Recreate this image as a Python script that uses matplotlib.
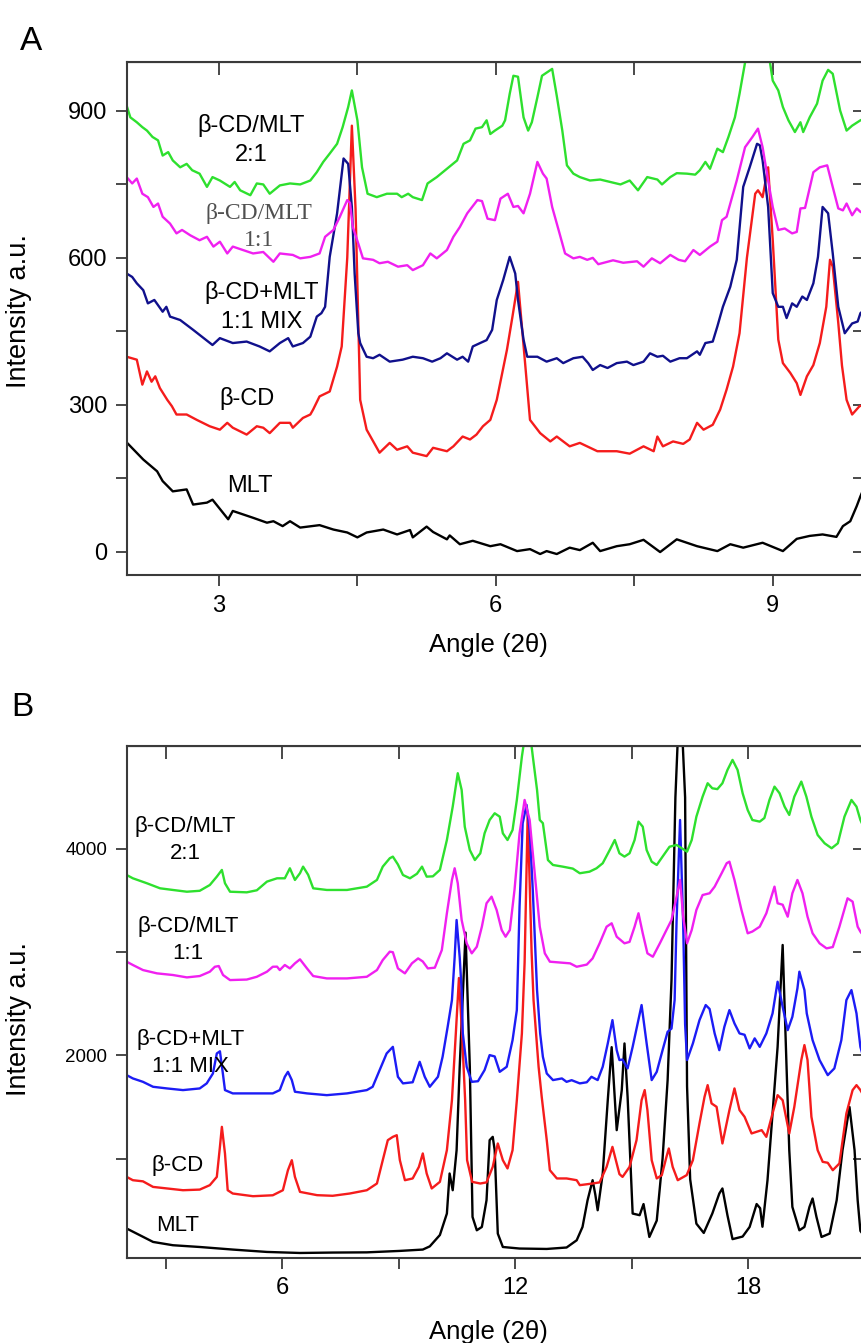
import matplotlib
matplotlib.use("Agg")
import matplotlib.pyplot as plt

plt.rcParams['font.family'] = ['Liberation Sans', 'DejaVu Sans']

# ---------- panel A data (2theta, intensity) ----------
a_mlt_x = [2.00, 2.18, 2.33, 2.39, 2.50, 2.65, 2.72, 2.87, 2.93, 3.10, 3.15, 3.37, 3.52, 3.59, 3.69,
           3.77, 3.88, 4.09, 4.24, 4.39, 4.50, 4.60, 4.78, 4.93, 5.07, 5.10, 5.25, 5.32, 5.47, 5.50,
           5.61, 5.75, 5.94, 6.05, 6.23, 6.37, 6.48, 6.55, 6.66, 6.80, 6.91, 7.05, 7.13, 7.31, 7.45,
           7.60, 7.78, 7.96, 8.18, 8.40, 8.54, 8.68, 8.89, 9.11, 9.26, 9.40, 9.54, 9.69, 9.76, 9.84,
           9.91, 9.95, 10.0]
a_mlt_y = [223, 188, 164, 144, 123, 127, 96, 100, 106, 66, 83, 69, 59, 62, 52,
           62, 49, 54, 45, 39, 29, 39, 45, 35, 44, 29, 51, 40, 25, 33,
           15, 22, 11, 15, 1, 5, -5, 1, -5, 8, 3, 18, 1, 11, 15,
           24, -1, 25, 11, 1, 15, 8, 18, 1, 26, 32, 35, 30, 52, 62,
           93, 113, 135]

a_cd_x = [2.00, 2.11, 2.17, 2.22, 2.27, 2.31, 2.36, 2.44, 2.49, 2.54, 2.65, 2.76, 2.90, 3.01, 3.09,
          3.15, 3.30, 3.41, 3.48, 3.55, 3.66, 3.77, 3.80, 3.91, 3.99, 4.02, 4.09, 4.20, 4.28, 4.33,
          4.39, 4.44, 4.48, 4.53, 4.60, 4.74, 4.85, 4.93, 5.04, 5.10, 5.25, 5.32, 5.47, 5.54, 5.64,
          5.72, 5.79, 5.86, 5.94, 6.01, 6.12, 6.18, 6.24, 6.32, 6.37, 6.48, 6.59, 6.66, 6.80, 6.91,
          7.10, 7.31, 7.45, 7.60, 7.71, 7.75, 7.81, 7.92, 8.03, 8.10, 8.18, 8.25, 8.35, 8.43, 8.50,
          8.57, 8.64, 8.72, 8.81, 8.84, 8.89, 8.95, 9.00, 9.06, 9.11, 9.19, 9.26, 9.30, 9.37, 9.44,
          9.51, 9.58, 9.62, 9.65, 9.71, 9.75, 9.80, 9.86, 9.94, 10.0]
a_cd_y = [398, 392, 341, 368, 347, 358, 334, 310, 297, 280, 280, 269, 256, 249, 263,
          253, 239, 256, 253, 242, 263, 263, 253, 273, 280, 290, 317, 327, 378, 419,
          600, 870, 700, 310, 249, 202, 222, 208, 215, 202, 195, 212, 205, 215, 235,
          229, 239, 256, 269, 310, 412, 480, 551, 378, 269, 242, 225, 235, 215, 222,
          205, 205, 200, 215, 205, 235, 215, 225, 220, 229, 263, 249, 259, 290, 331,
          378, 446, 600, 731, 738, 724, 785, 636, 433, 385, 365, 344, 320, 358, 381,
          426, 500, 596, 582, 467, 380, 310, 280, 297, 300]

a_mix_x = [2.00, 2.06, 2.11, 2.18, 2.23, 2.30, 2.39, 2.43, 2.47, 2.58, 2.72, 2.93, 3.01, 3.15, 3.30,
           3.44, 3.55, 3.66, 3.75, 3.80, 3.91, 3.99, 4.06, 4.11, 4.15, 4.20, 4.28, 4.35, 4.40, 4.44,
           4.47, 4.51, 4.53, 4.60, 4.67, 4.74, 4.85, 4.99, 5.10, 5.21, 5.31, 5.40, 5.47, 5.58, 5.64,
           5.70, 5.75, 5.83, 5.90, 5.96, 6.01, 6.08, 6.15, 6.21, 6.24, 6.30, 6.34, 6.45, 6.55, 6.66,
           6.73, 6.84, 6.94, 7.00, 7.05, 7.13, 7.21, 7.31, 7.42, 7.49, 7.60, 7.67, 7.75, 7.81, 7.89,
           7.99, 8.07, 8.18, 8.21, 8.27, 8.35, 8.40, 8.46, 8.54, 8.61, 8.68, 8.75, 8.83, 8.86, 8.89,
           8.95, 9.00, 9.06, 9.11, 9.15, 9.21, 9.26, 9.32, 9.37, 9.44, 9.49, 9.54, 9.60, 9.65, 9.71,
           9.78, 9.86, 9.92, 9.95, 10.0]
a_mix_y = [568, 561, 548, 534, 507, 514, 490, 500, 480, 473, 453, 422, 436, 426, 429,
           419, 409, 426, 436, 419, 426, 439, 480, 487, 500, 602, 691, 803, 792, 704,
           568, 446, 426, 398, 395, 402, 388, 392, 398, 395, 388, 395, 405, 392, 398,
           388, 419, 426, 432, 453, 514, 555, 602, 568, 514, 433, 398, 398, 388, 395,
           385, 395, 398, 385, 371, 381, 375, 385, 388, 381, 388, 405, 398, 400, 388,
           395, 395, 409, 402, 426, 429, 460, 500, 541, 596, 745, 785, 833, 830, 799,
           704, 528, 500, 500, 477, 507, 500, 521, 514, 548, 602, 704, 691, 609, 500,
           446, 466, 470, 487, 495]

a_11_x = [2.00, 2.06, 2.11, 2.17, 2.23, 2.29, 2.34, 2.39, 2.47, 2.54, 2.60, 2.69, 2.79, 2.87, 2.94,
          3.01, 3.09, 3.15, 3.26, 3.37, 3.48, 3.59, 3.66, 3.80, 3.88, 3.99, 4.09, 4.15, 4.24, 4.31,
          4.39, 4.42, 4.45, 4.51, 4.56, 4.67, 4.74, 4.83, 4.94, 5.04, 5.10, 5.21, 5.29, 5.36, 5.47,
          5.54, 5.61, 5.69, 5.80, 5.85, 5.91, 5.99, 6.05, 6.13, 6.19, 6.24, 6.30, 6.37, 6.45, 6.51,
          6.55, 6.61, 6.69, 6.75, 6.84, 6.91, 6.99, 7.05, 7.11, 7.21, 7.27, 7.38, 7.53, 7.60, 7.69,
          7.78, 7.89, 7.98, 8.05, 8.14, 8.21, 8.32, 8.40, 8.45, 8.50, 8.61, 8.70, 8.78, 8.84, 8.89,
          8.95, 9.00, 9.06, 9.13, 9.21, 9.26, 9.30, 9.35, 9.44, 9.51, 9.59, 9.64, 9.71, 9.76, 9.80,
          9.86, 9.91, 9.95, 10.0]
a_11_y = [765, 752, 762, 731, 724, 704, 711, 684, 670, 650, 657, 646, 636, 643, 623,
          633, 609, 623, 616, 609, 612, 592, 609, 606, 599, 602, 609, 643, 657, 684,
          718, 712, 663, 629, 599, 596, 589, 592, 582, 585, 575, 585, 609, 599, 616,
          643, 663, 691, 718, 716, 680, 677, 721, 731, 704, 706, 691, 731, 796, 772,
          762, 704, 650, 609, 599, 602, 596, 600, 587, 592, 595, 590, 593, 582, 599,
          589, 606, 596, 593, 616, 606, 623, 633, 677, 684, 758, 826, 847, 864, 826,
          758, 704, 657, 660, 650, 653, 701, 702, 775, 785, 789, 752, 701, 697, 711,
          687, 701, 694, 690]

a_21_x = [2.00, 2.04, 2.11, 2.17, 2.22, 2.28, 2.34, 2.39, 2.45, 2.50, 2.58, 2.65, 2.71, 2.79, 2.87,
          2.93, 3.01, 3.12, 3.17, 3.23, 3.34, 3.41, 3.48, 3.55, 3.66, 3.77, 3.88, 3.99, 4.06, 4.13,
          4.20, 4.28, 4.34, 4.40, 4.44, 4.50, 4.55, 4.61, 4.71, 4.82, 4.93, 4.98, 5.05, 5.10, 5.20,
          5.26, 5.36, 5.47, 5.58, 5.65, 5.72, 5.78, 5.85, 5.90, 5.94, 5.99, 6.07, 6.10, 6.15, 6.19,
          6.24, 6.30, 6.35, 6.39, 6.45, 6.50, 6.61, 6.66, 6.72, 6.77, 6.84, 6.91, 7.02, 7.13, 7.24,
          7.35, 7.45, 7.54, 7.64, 7.75, 7.80, 7.89, 7.96, 8.07, 8.16, 8.21, 8.27, 8.32, 8.40, 8.46,
          8.52, 8.59, 8.64, 8.70, 8.78, 8.86, 8.97, 9.00, 9.06, 9.11, 9.17, 9.24, 9.30, 9.33, 9.40,
          9.48, 9.54, 9.60, 9.65, 9.73, 9.80, 9.86, 9.95, 10.0]
a_21_y = [911, 887, 877, 867, 860, 847, 840, 809, 816, 799, 785, 792, 779, 772, 745,
          765, 758, 745, 755, 738, 728, 752, 750, 731, 748, 752, 750, 758, 775, 796,
          813, 833, 867, 908, 942, 881, 785, 731, 724, 731, 731, 724, 731, 724, 718,
          752, 765, 782, 799, 833, 840, 864, 867, 881, 853, 860, 870, 881, 935, 972,
          970, 887, 860, 877, 928, 972, 986, 931, 860, 789, 772, 765, 758, 760, 755,
          750, 758, 738, 765, 760, 750, 765, 773, 772, 770, 779, 796, 782, 823, 816,
          847, 887, 935, 999, 1080, 1080, 999, 962, 942, 908, 881, 857, 877, 857, 887,
          915, 962, 984, 976, 901, 860, 870, 881, 885]

# ---------- panel B data ----------
b_mlt_x = [2.00, 2.34, 2.68, 3.19, 3.88, 4.73, 5.61, 6.46, 7.30, 8.18, 9.03, 9.62, 9.80, 10.06, 10.24,
           10.31, 10.39, 10.49, 10.57, 10.72, 10.83, 10.90, 11.01, 11.14, 11.26, 11.34, 11.42, 11.47,
           11.55, 11.68, 12.11, 12.81, 13.32, 13.58, 13.73, 13.86, 13.99, 14.06, 14.12, 14.25, 14.38,
           14.48, 14.61, 14.74, 14.81, 14.89, 15.02, 15.20, 15.30, 15.45, 15.64, 15.79, 15.92, 16.02,
           16.12, 16.24, 16.37, 16.42, 16.50, 16.66, 16.85, 17.07, 17.25, 17.33, 17.46, 17.59, 17.85,
           18.03, 18.21, 18.30, 18.36, 18.49, 18.62, 18.75, 18.88, 18.98, 19.05, 19.13, 19.31, 19.44,
           19.57, 19.65, 19.75, 19.88, 20.09, 20.27, 20.42, 20.60, 20.73, 20.81, 20.88, 20.98]
b_mlt_y = [323, 258, 193, 161, 144, 119, 96, 86, 90, 92, 106, 119, 150, 260, 468,
           856, 694, 1082, 1890, 3190, 1890, 435, 306, 338, 597, 1179, 1211, 1082,
           274, 144, 129, 125, 139, 209, 338, 597, 791, 650, 500, 856, 1567,
           2080, 1276, 1664, 2116, 1599, 468, 452, 560, 241, 400, 1000, 1761, 2730,
           4500, 5600, 4500, 1700, 800, 370, 280, 468, 662, 711, 450, 220, 245,
           338, 560, 520, 340, 791, 1438, 2083, 3070, 1890, 1082, 532, 306, 338,
           532, 614, 435, 241, 274, 597, 1082, 1500, 1082, 597, 300, 250]

b_cd_x = [2.00, 2.16, 2.42, 2.68, 3.04, 3.45, 3.88, 4.14, 4.32, 4.40, 4.45, 4.53, 4.60, 4.73, 5.25,
          5.76, 6.02, 6.15, 6.25, 6.33, 6.46, 6.90, 7.30, 7.74, 8.18, 8.44, 8.59, 8.72, 8.85, 8.95,
          9.03, 9.16, 9.36, 9.52, 9.62, 9.72, 9.85, 10.06, 10.24, 10.37, 10.47, 10.55, 10.63, 10.71,
          10.76, 10.89, 11.10, 11.26, 11.42, 11.55, 11.68, 11.80, 11.93, 12.04, 12.17, 12.24, 12.32,
          12.42, 12.47, 12.60, 12.68, 12.81, 12.89, 13.07, 13.32, 13.58, 13.66, 13.99, 14.17, 14.35,
          14.50, 14.68, 14.76, 14.94, 15.12, 15.25, 15.33, 15.40, 15.51, 15.64, 15.77, 15.89, 15.95,
          16.05, 16.18, 16.41, 16.57, 16.74, 16.87, 16.95, 17.05, 17.18, 17.33, 17.51, 17.64, 17.77,
          17.90, 18.08, 18.21, 18.34, 18.46, 18.62, 18.75, 18.88, 19.05, 19.18, 19.36, 19.44, 19.52,
          19.62, 19.78, 19.91, 20.04, 20.17, 20.34, 20.52, 20.68, 20.78, 20.88, 20.98]
b_cd_y = [823, 791, 780, 726, 711, 694, 700, 743, 823, 1114, 1308, 1050, 694, 662, 636,
          645, 694, 888, 985, 823, 678, 646, 640, 662, 694, 759, 985, 1179, 1211, 1227,
          985, 791, 808, 920, 1050, 856, 711, 775, 1082, 1566, 2213, 2750, 2213, 1566,
          985, 775, 759, 770, 920, 1147, 985, 905, 1082, 1566, 2213, 2900, 4350,
          3000, 2536, 1890, 1599, 1179, 888, 808, 808, 791, 743, 759, 770, 920,
          1114, 850, 823, 920, 1179, 1566, 1664, 1470, 985, 808, 840, 1017, 1098,
          920, 791, 840, 985, 1341, 1599, 1712, 1535, 1502, 1147, 1470, 1680, 1470,
          1405, 1244, 1260, 1276, 1211, 1438, 1615, 1566, 1244, 1502, 1955, 2100, 1955,
          1405, 1082, 969, 960, 888, 953, 1438, 1664, 1712, 1664, 1600]

b_mix_x = [2.00, 2.16, 2.42, 2.68, 3.04, 3.45, 3.88, 4.06, 4.22, 4.32, 4.40, 4.45, 4.53, 4.73, 5.25,
           5.76, 5.94, 6.07, 6.15, 6.25, 6.33, 6.64, 7.15, 7.67, 8.18, 8.33, 8.51, 8.69, 8.85, 8.98,
           9.11, 9.36, 9.54, 9.67, 9.80, 10.01, 10.13, 10.26, 10.37, 10.44, 10.49, 10.57, 10.62, 10.65,
           10.75, 10.88, 11.04, 11.21, 11.34, 11.47, 11.60, 11.78, 11.93, 12.04, 12.11, 12.19, 12.29,
           12.37, 12.45, 12.56, 12.64, 12.71, 12.81, 12.97, 13.20, 13.32, 13.45, 13.66, 13.84, 13.96,
           14.12, 14.25, 14.38, 14.50, 14.61, 14.68, 14.76, 14.89, 15.02, 15.25, 15.38, 15.51, 15.64,
           15.79, 15.92, 16.02, 16.10, 16.15, 16.24, 16.32, 16.37, 16.42, 16.57, 16.74, 16.90, 17.00,
           17.13, 17.25, 17.38, 17.51, 17.64, 17.77, 17.90, 18.03, 18.16, 18.29, 18.46, 18.62, 18.75,
           18.88, 19.01, 19.13, 19.26, 19.31, 19.44, 19.50, 19.65, 19.83, 20.04, 20.21, 20.39, 20.52,
           20.65, 20.78, 20.88, 20.98]
b_mix_y = [1809, 1777, 1744, 1696, 1680, 1664, 1680, 1729, 1825, 2019, 2040, 1900, 1664, 1632, 1632,
           1632, 1664, 1793, 1841, 1761, 1648, 1632, 1615, 1632, 1664, 1696, 1858, 2019, 2083, 1793,
           1729, 1740, 1938, 1793, 1696, 1793, 1987, 2277, 2536, 2950, 3312, 2950, 2633, 2213,
           1890, 1744, 1750, 1858, 2003, 1990, 1841, 1890, 2148, 2439, 3441, 4249, 4427,
           4184, 3603, 2633, 2213, 1987, 1825, 1761, 1777, 1744, 1760, 1729, 1740, 1793,
           1761, 1890, 2116, 2342, 2051, 1955, 1960, 1874, 2083, 2488, 2116, 1761, 1841,
           2051, 2229, 2260, 2536, 3300, 4281, 3280, 2300, 1955, 2116, 2342, 2488, 2450,
           2213, 2051, 2277, 2439, 2310, 2213, 2200, 2068, 2165, 2083, 2213, 2407, 2714,
           2471, 2245, 2374, 2650, 2811, 2633, 2407, 2148, 1955, 1809, 1874, 2148, 2536,
           2633, 2407, 2083, 1950]

b_11_x = [2.00, 2.16, 2.42, 2.78, 3.19, 3.55, 3.88, 4.14, 4.27, 4.37, 4.48, 4.66, 5.09, 5.35, 5.61,
          5.76, 5.87, 5.94, 6.07, 6.20, 6.33, 6.46, 6.64, 6.80, 7.15, 7.67, 8.18, 8.44, 8.59, 8.77,
          8.85, 8.98, 9.16, 9.34, 9.50, 9.62, 9.75, 9.93, 10.11, 10.24, 10.37, 10.44, 10.52, 10.62,
          10.75, 10.88, 11.01, 11.14, 11.26, 11.39, 11.52, 11.65, 11.75, 11.86, 11.98, 12.11, 12.24,
          12.37, 12.50, 12.63, 12.76, 12.89, 13.15, 13.41, 13.58, 13.84, 13.99, 14.17, 14.35, 14.48,
          14.61, 14.81, 14.94, 15.07, 15.17, 15.28, 15.40, 15.54, 15.72, 15.89, 16.02, 16.15, 16.24,
          16.32, 16.42, 16.54, 16.66, 16.82, 17.00, 17.13, 17.31, 17.44, 17.51, 17.64, 17.82, 17.98,
          18.10, 18.29, 18.46, 18.59, 18.67, 18.75, 18.88, 19.01, 19.13, 19.26, 19.39, 19.52, 19.65,
          19.83, 20.01, 20.17, 20.34, 20.55, 20.68, 20.81, 20.88, 20.98]
b_11_y = [2908, 2876, 2827, 2795, 2779, 2756, 2769, 2811, 2859, 2866, 2779, 2730, 2735, 2762, 2811,
          2859, 2860, 2827, 2876, 2843, 2892, 2931, 2843, 2769, 2746, 2746, 2762, 2827, 2924, 3005,
          3000, 2843, 2795, 2892, 2940, 2910, 2843, 2850, 3021, 3377, 3700, 3813, 3668, 3312,
          3086, 2989, 3053, 3247, 3474, 3538, 3409, 3215, 3150, 3215, 3603, 4152, 4475,
          4281, 3765, 3247, 2989, 2908, 2900, 2892, 2859, 2880, 2940, 3086, 3247, 3280,
          3150, 3086, 3100, 3247, 3377, 3183, 2989, 2956, 3086, 3215, 3312, 3538, 3700,
          3344, 3086, 3215, 3409, 3554, 3571, 3635, 3765, 3862, 3877, 3700, 3409, 3183,
          3200, 3247, 3377, 3538, 3635, 3474, 3460, 3344, 3571, 3700, 3571, 3344, 3183,
          3086, 3037, 3050, 3247, 3522, 3490, 3247, 3199, 3150]

b_21_x = [2.00, 2.16, 2.52, 2.86, 3.19, 3.55, 3.88, 4.14, 4.32, 4.45, 4.53, 4.66, 5.09, 5.35, 5.61,
          5.87, 6.07, 6.20, 6.33, 6.46, 6.54, 6.67, 6.80, 7.15, 7.67, 8.18, 8.44, 8.59, 8.77, 8.85,
          8.98, 9.11, 9.29, 9.47, 9.60, 9.72, 9.88, 10.06, 10.24, 10.39, 10.52, 10.62, 10.70, 10.83,
          10.96, 11.10, 11.21, 11.34, 11.47, 11.60, 11.68, 11.80, 11.93, 12.04, 12.17, 12.27, 12.37,
          12.45, 12.56, 12.63, 12.71, 12.84, 12.97, 13.22, 13.48, 13.66, 13.91, 14.09, 14.25, 14.43,
          14.56, 14.68, 14.81, 14.94, 15.07, 15.17, 15.28, 15.38, 15.51, 15.64, 15.79, 15.97, 16.15,
          16.27, 16.42, 16.54, 16.66, 16.82, 16.95, 17.07, 17.20, 17.33, 17.46, 17.59, 17.72, 17.85,
          17.98, 18.10, 18.29, 18.41, 18.54, 18.67, 18.80, 18.93, 19.05, 19.18, 19.36, 19.49, 19.62,
          19.78, 19.96, 20.14, 20.30, 20.47, 20.65, 20.78, 20.88, 20.98]
b_21_y = [3748, 3716, 3668, 3619, 3603, 3586, 3595, 3651, 3732, 3797, 3668, 3586, 3580, 3600, 3684,
          3716, 3716, 3813, 3700, 3765, 3829, 3750, 3619, 3603, 3603, 3635, 3700, 3829, 3910, 3926,
          3850, 3748, 3716, 3760, 3829, 3732, 3735, 3797, 4087, 4410, 4734, 4572, 4216, 3990,
          3893, 3958, 4152, 4281, 4346, 4313, 4152, 4087, 4184, 4475, 4895, 5150, 5150,
          4900, 4572, 4281, 4250, 3893, 3845, 3829, 3810, 3765, 3780, 3813, 3862, 3990,
          4087, 3958, 3926, 3958, 4087, 4265, 4216, 3990, 3877, 3845, 3926, 4022, 4039,
          4010, 3974, 4087, 4313, 4507, 4637, 4588, 4580, 4637, 4766, 4863, 4766, 4540,
          4378, 4281, 4265, 4300, 4475, 4604, 4540, 4410, 4330, 4507, 4653, 4507, 4313,
          4136, 4055, 4007, 4055, 4313, 4475, 4410, 4281, 4200]

green = '#2ee02e'
magenta = '#f020f0'
navy = '#10108c'
blue = '#1c1cf5'
red = '#f51c1c'
spine_col = '#3a3a3a'


def style_axes(ax, xt, xlab, yt, ylab, ysize):
    for s in ax.spines.values():
        s.set_color(spine_col)
        s.set_linewidth(1.5)
    ax.set_xticks(xt)
    ax.set_xticklabels(xlab, fontsize=17)
    ax.set_yticks(yt)
    ax.set_yticklabels(ylab, fontsize=ysize)
    ax.tick_params(direction='out', length=8, width=1.3, color=spine_col, pad=6)
    top = ax.secondary_xaxis('top')
    top.set_xticks(xt)
    top.set_xticklabels([])
    top.tick_params(direction='in', length=9, width=1.3, color=spine_col)
    right = ax.secondary_yaxis('right')
    right.set_yticks(yt)
    right.set_yticklabels([])
    right.tick_params(direction='in', length=9, width=1.3, color=spine_col)
    ax.set_xlabel('Angle (2θ)', fontsize=18.5)
    ax.set_ylabel('Intensity a.u.', fontsize=19.5)


fig = plt.figure(figsize=(8.61, 13.43), dpi=100)
axA = fig.add_axes([0.1471, 0.5718, 0.8576, 0.3820])
axB = fig.add_axes([0.1471, 0.0635, 0.8576, 0.3812])

lw = 1.7
axA.plot(a_mlt_x, a_mlt_y, color='black', lw=lw)
axA.plot(a_cd_x, a_cd_y, color=red, lw=lw)
axA.plot(a_mix_x, a_mix_y, color=navy, lw=lw)
axA.plot(a_11_x, a_11_y, color=magenta, lw=lw)
axA.plot(a_21_x, a_21_y, color=green, lw=lw)
axA.set_xlim(2, 10)
axA.set_ylim(-48, 1000)
style_axes(axA, [3, 4.5, 6, 7.5, 9], ['3', '', '6', '', '9'],
           [0, 150, 300, 450, 600, 750, 900], ['0', '', '300', '', '600', '', '900'], 17)
axA.xaxis.set_label_coords(0.49, -0.113)
axA.yaxis.set_label_coords(-0.128, 0.515)

axA.text(3.35, 840, 'β-CD/MLT\n2:1', ha='center', va='center', fontsize=17, linespacing=1.4)
axA.text(3.43, 663, 'β-CD/MLT\n1:1', ha='center', va='center', fontsize=17, linespacing=1.4,
         family='Liberation Serif', color='#505050')
axA.text(3.46, 500, 'β-CD+MLT\n1:1 MIX', ha='center', va='center', fontsize=17, linespacing=1.4)
axA.text(3.30, 312, 'β-CD', ha='center', va='center', fontsize=17)
axA.text(3.34, 133, 'MLT', ha='center', va='center', fontsize=17)

axB.plot(b_mlt_x, b_mlt_y, color='black', lw=lw)
axB.plot(b_cd_x, b_cd_y, color=red, lw=lw)
axB.plot(b_mix_x, b_mix_y, color=blue, lw=lw)
axB.plot(b_11_x, b_11_y, color=magenta, lw=lw)
axB.plot(b_21_x, b_21_y, color=green, lw=lw)
axB.set_xlim(2, 21)
axB.set_ylim(40, 5000)
style_axes(axB, [3, 6, 9, 12, 15, 18, 21], ['', '6', '', '12', '', '18', ''],
           [1000, 2000, 3000, 4000], ['', '2000', '', '4000'], 13.5)
axB.xaxis.set_label_coords(0.49, -0.122)
axB.yaxis.set_label_coords(-0.128, 0.466)

axB.text(3.5, 4087, 'β-CD/MLT\n2:1', ha='center', va='center', fontsize=16, linespacing=1.4)
axB.text(3.58, 3118, 'β-CD/MLT\n1:1', ha='center', va='center', fontsize=16, linespacing=1.4)
axB.text(3.65, 2022, 'β-CD+MLT\n1:1 MIX', ha='center', va='center', fontsize=16, linespacing=1.4)
axB.text(3.32, 935, 'β-CD', ha='center', va='center', fontsize=16)
axB.text(3.32, 355, 'MLT', ha='center', va='center', fontsize=16)

fig.text(31 / 861, 1 - 42 / 1343, 'A', fontsize=24, ha='center', va='center')
fig.text(22 / 861, 1 - 708 / 1343, 'B', fontsize=24, ha='center', va='center')

fig.savefig('out.png', dpi=100)
